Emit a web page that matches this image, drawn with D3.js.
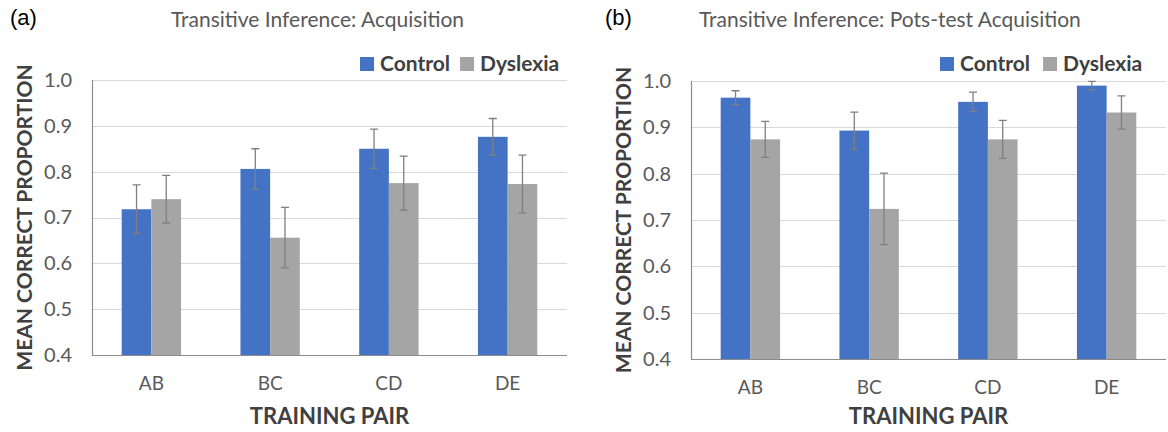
<!DOCTYPE html>
<html>
<head>
<meta charset="utf-8">
<script src="https://cdn.jsdelivr.net/npm/d3@7"></script>
<style>
  body { margin: 0; background: #fff; }
  svg { display: block; font-family: Lato, "Open Sans", sans-serif; }
  .grid line { stroke: #d9d9d9; stroke-width: 1; }
  .axis-line { stroke: #8c8c8c; stroke-width: 1.2; }
  .err { stroke: #808080; stroke-width: 1.3; fill: none; }
</style>
</head>
<body>
<svg id="chart" width="1168" height="432"></svg>
<script>
// ---------------------------------------------------------
// DATA
// ---------------------------------------------------------
const pairs = ['AB', 'BC', 'CD', 'DE'];
const groups = ['Control', 'Dyslexia'];
const yTicks = [0.4, 0.5, 0.6, 0.7, 0.8, 0.9, 1.0];

// (a) acquisition
const acqControl = [0.718, 0.806, 0.850, 0.876];
const acqControlErr = [0.053, 0.044, 0.043, 0.040];
const acqDyslexia = [0.740, 0.656, 0.775, 0.773];
const acqDyslexiaErr = [0.052, 0.066, 0.059, 0.063];

// (b) post-test acquisition
const postControl = [0.964, 0.893, 0.955, 0.990];
const postControlErr = [0.015, 0.040, 0.021, 0.009];
const postDyslexia = [0.874, 0.724, 0.874, 0.932];
const postDyslexiaErr = [0.039, 0.077, 0.041, 0.036];

const colors = { Control: '#4472c4', Dyslexia: '#a5a5a5' };

const svg = d3.select('#chart');

function drawPanel(opts) {
  const { left, right, top, bottom, control, controlErr, dyslexia, dyslexiaErr } = opts;
  const g = svg.append('g');

  const x = d3.scaleBand().domain(pairs).range([left, right]).paddingInner(0.5).paddingOuter(0.25);
  const xs = d3.scaleBand().domain(groups).range([0, x.bandwidth()]);
  const y = d3.scaleLinear().domain([0.4, 1.0]).range([bottom, top]);

  // GRID
  g.append('g').attr('class', 'grid')
    .selectAll('line').data(yTicks.slice(1)).join('line')
    .attr('x1', left).attr('x2', right)
    .attr('y1', d => Math.round(y(d)) + 0.5).attr('y2', d => Math.round(y(d)) + 0.5);

  // BARS
  const rows = pairs.map((p, i) => [
    { pair: p, group: 'Control', v: control[i], e: controlErr[i] },
    { pair: p, group: 'Dyslexia', v: dyslexia[i], e: dyslexiaErr[i] }
  ]).flat();

  g.append('g').selectAll('rect').data(rows).join('rect')
    .attr('x', d => x(d.pair) + xs(d.group))
    .attr('width', xs.bandwidth())
    .attr('y', d => y(d.v))
    .attr('height', d => y(0.4) - y(d.v))
    .attr('fill', d => colors[d.group]);

  // ERROR BARS
  const cap = 4;
  g.append('g').selectAll('path').data(rows).join('path')
    .attr('class', 'err')
    .attr('d', d => {
      const cx = x(d.pair) + xs(d.group) + xs.bandwidth() / 2;
      const y1 = y(d.v + d.e), y0 = y(d.v - d.e);
      return `M${ cx - cap },${ y1 }H${ cx + cap }M${ cx },${ y1 }V${ y0 }M${ cx - cap },${ y0 }H${ cx + cap }`;
    });

  // AXES
  g.append('path').attr('class', 'axis-line').attr('fill', 'none')
    .attr('d', `M${ left + 0.5 },${ top }V${ bottom + 0.5 }H${ right }`);

  const yAxis = d3.axisLeft(y).tickValues(yTicks).tickFormat(d3.format('.1f')).tickSize(0).tickPadding(20);
  const ya = g.append('g').attr('transform', `translate(${ left },0)`).call(yAxis);
  ya.select('.domain').remove();
  ya.selectAll('text').attr('font-size', 20).attr('fill', '#595959').attr('font-family', 'Lato');

  const xAxis = d3.axisBottom(x).tickSize(0).tickPadding(22);
  const xa = g.append('g').attr('transform', `translate(0,${ bottom })`).call(xAxis);
  xa.select('.domain').remove();
  xa.selectAll('text').attr('font-size', 19).attr('fill', '#595959').attr('font-family', 'Lato');

  // AXIS TITLES
  g.append('text')
    .attr('transform', `translate(${ left - 60 },${ (top + bottom) / 2 }) rotate(-90)`)
    .attr('text-anchor', 'middle')
    .attr('font-size', 21).attr('font-weight', 700).attr('fill', '#404040')
    .text('MEAN CORRECT PROPORTION');

  g.append('text')
    .attr('x', (left + right) / 2).attr('y', 424)
    .attr('text-anchor', 'middle')
    .attr('font-size', 22).attr('font-weight', 700).attr('fill', '#404040')
    .text('TRAINING PAIR');

  // TITLE + PANEL LETTER
  g.append('text').attr('x', opts.titleX).attr('y', 27)
    .attr('font-size', 21).attr('fill', '#595959')
    .text(opts.title);

  g.append('text').attr('x', opts.letterX).attr('y', 25)
    .attr('font-family', '"Liberation Sans", Arial, sans-serif')
    .attr('font-size', 22).attr('fill', '#000')
    .text(opts.letter);

  // LEGEND
  const legend = g.append('g').attr('transform', `translate(${ opts.legendX },71)`);
  let lx = 0;
  groups.forEach(k => {
    legend.append('rect').attr('x', lx).attr('y', -14).attr('width', 14).attr('height', 14).attr('fill', colors[k]);
    const t = legend.append('text').attr('x', lx + 20).attr('y', 0)
      .attr('font-size', 21).attr('font-weight', 700).attr('fill', '#404040')
      .text(k);
    lx += 20 + t.node().getComputedTextLength() + opts.legendGap;
  });
}

drawPanel({
  left: 92, right: 567, top: 80, bottom: 355,
  control: acqControl, controlErr: acqControlErr,
  dyslexia: acqDyslexia, dyslexiaErr: acqDyslexiaErr,
  title: 'Transitive Inference: Acquisition', titleX: 171,
  letter: '(a)', letterX: 10,
  legendX: 360, legendGap: 10
});

drawPanel({
  left: 691, right: 1166, top: 81, bottom: 359,
  control: postControl, controlErr: postControlErr,
  dyslexia: postDyslexia, dyslexiaErr: postDyslexiaErr,
  title: 'Transitive Inference: Pots-test Acquisition', titleX: 699,
  letter: '(b)', letterX: 605,
  legendX: 940, legendGap: 13
});
</script>
</body>
</html>
